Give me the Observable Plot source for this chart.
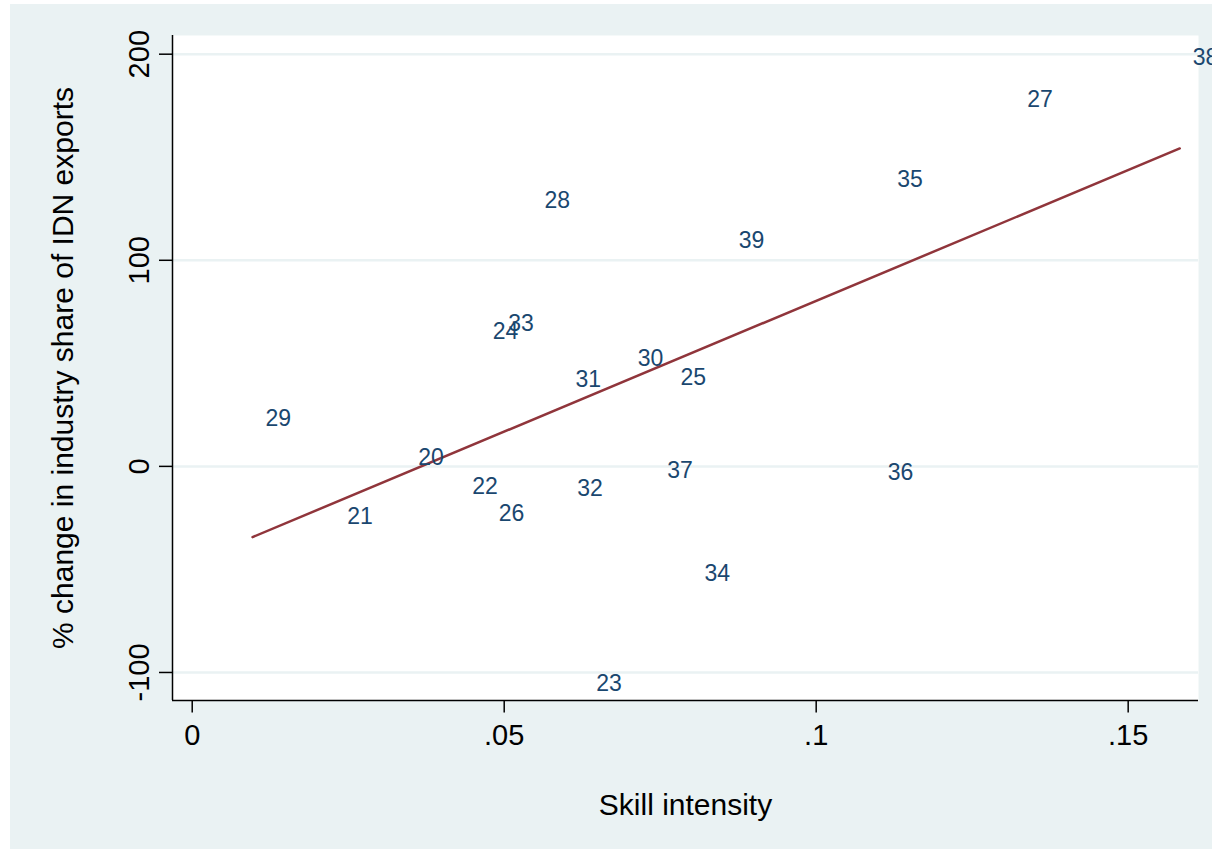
<!DOCTYPE html>
<html><head><meta charset="utf-8">
<script src="https://cdn.jsdelivr.net/npm/d3@7"></script>
<script src="https://cdn.jsdelivr.net/npm/@observablehq/plot@0.6"></script>
<style>
html,body{margin:0;padding:0;background:#fff;}
#chart{position:absolute;left:10px;top:4px;}
</style></head><body><div id="chart"></div>
<script>
const industries = ["29","21","20","22","26","24","33","28","31","32","23","30","37","25","34","39","36","35","27","38"];
const skillIntensity = [0.00966, 0.02276, 0.03413, 0.04279, 0.04705, 0.04609, 0.04856, 0.05438, 0.05934, 0.05962, 0.06266, 0.06933, 0.07404, 0.07617, 0.08002, 0.08551, 0.10939, 0.11090, 0.13173, 0.15827];
const pctChange = [23.2, -24.6, 4.2, -9.8, -23.0, 65.5, 69.5, 129.0, 42.2, -10.9, -105.5, 52.2, -2.3, 43.3, -52.1, 109.3, -3.1, 139.2, 177.9, 198.4];
const xTicks = [0, 0.05, 0.1, 0.15];
const xTickLabels = ["0", ".05", ".1", ".15"];
const yTicks = [-100, 0, 100, 200];
const yTickLabels = ["-100", "0", "100", "200"];
const xTitle = "Skill intensity";
const yTitle = "% change in industry share of IDN exports";
const xDomain = [-0.00316, 0.16127];
const yDomain = [-113.6, 209.07];

const data = industries.map((id, i) => ({id, x: skillIntensity[i], y: pctChange[i]}));

const plot = Plot.plot({
  width: 1202, height: 845,
  marginLeft: 162, marginTop: 31, marginRight: 14, marginBottom: 149,
  style: {background: "#eaf2f3", fontFamily: "'Liberation Sans', Arial, sans-serif", overflow: "hidden", color: "black"},
  x: {domain: xDomain},
  y: {domain: yDomain},
  marks: [
    Plot.frame({fill: "white", stroke: "none"}),
    Plot.gridY({ticks: yTicks, stroke: "#eaf2f3", strokeOpacity: 1, strokeWidth: 2.5}),
    Plot.linearRegressionY(data, {x: "x", y: "y", stroke: "#90353b", strokeWidth: 2.5, ci: 0}),
    Plot.text(data, {x: "x", y: "y", text: "id", textAnchor: "start", dx: 13, fill: "#1a476f", fontSize: 23}),
    Plot.ruleX([xDomain[0]], {stroke: "black", strokeWidth: 1.5}),
    Plot.ruleY([yDomain[0]], {stroke: "black", strokeWidth: 1.5}),
    Plot.axisY({ticks: yTicks, tickSize: 13, tickPadding: 11, tickRotate: -90, fontSize: 29,
      tickFormat: d => yTickLabels[yTicks.indexOf(d)], label: null, strokeWidth: 1.5}),
    Plot.axisX({ticks: xTicks, tickSize: 12.5, tickPadding: 11.5, fontSize: 29,
      tickFormat: d => xTickLabels[xTicks.indexOf(d)], label: null, strokeWidth: 1.5}),
    Plot.text([yTitle], {frameAnchor: "left", rotate: -90, dx: -100, lineAnchor: "bottom", textAnchor: "middle", fontSize: 30, fill: "black"}),
    Plot.text([xTitle], {frameAnchor: "bottom", lineAnchor: "bottom", dy: 114, textAnchor: "middle", fontSize: 30, fill: "black"})
  ]
});
document.getElementById("chart").appendChild(plot);
</script>
</body></html>
